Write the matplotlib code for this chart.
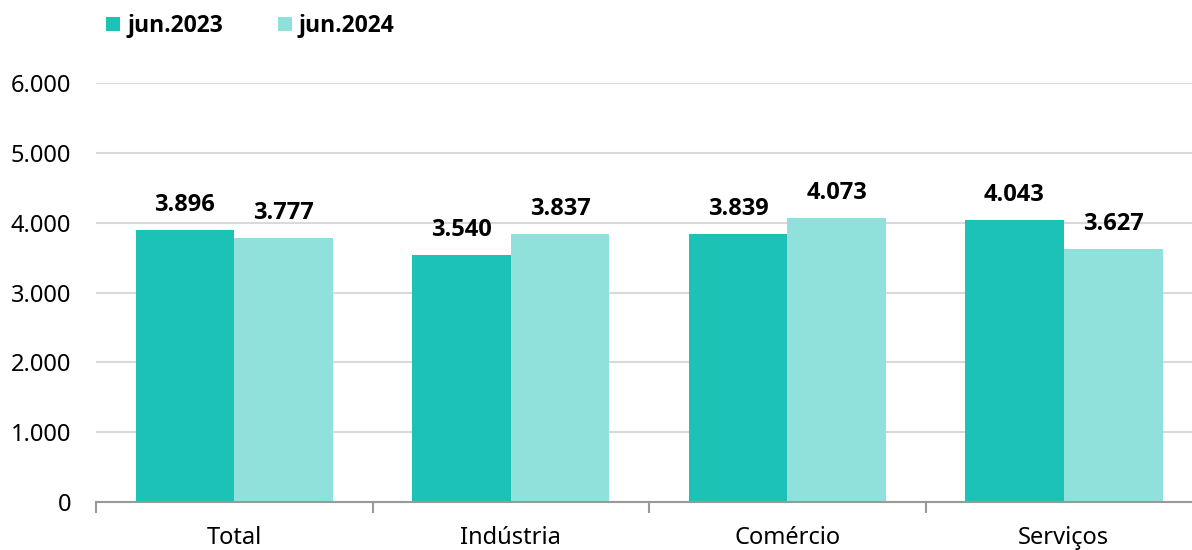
import matplotlib
matplotlib.use('Agg')
import matplotlib.pyplot as plt
import numpy as np

categories = ['Total', 'Indústria', 'Comércio', 'Serviços']
jun2023 = [3896, 3540, 3839, 4043]
jun2024 = [3777, 3837, 4073, 3627]
series_names = ['jun.2023', 'jun.2024']
yticks = [0, 1000, 2000, 3000, 4000, 5000, 6000]

plt.rcParams['font.family'] = ['Noto Sans', 'DejaVu Sans']
bold_font = ['Open Sans', 'DejaVu Sans']

def fmt(v):
    return '{:,}'.format(v).replace(',', '.')

fig = plt.figure(figsize=(11.92, 5.5), dpi=100)
ax = fig.add_axes([0.0805, 0.087, 0.928, 0.762])

x = np.arange(len(categories))
w = 0.357
dark = '#1CC2B5'
light = '#90E1DB'

b1 = ax.bar(x - w / 2, jun2023, w, color=dark, label=series_names[0], zorder=3)
b2 = ax.bar(x + w / 2, jun2024, w, color=light, label=series_names[1], zorder=3)

for bars, vals in [(b1, jun2023), (b2, jun2024)]:
    for b, v in zip(bars, vals):
        ax.annotate(fmt(v), (b.get_x() + b.get_width() / 2, v), xytext=(0, 18),
                    textcoords='offset points', ha='center', va='center',
                    fontsize=17, fontweight='bold', family=bold_font, color='black')

ax.set_ylim(0, 6000)
ax.set_xlim(-0.5, len(categories) - 0.5)
ax.set_yticks(yticks)
ax.set_yticklabels([fmt(v) for v in yticks], fontsize=17)
ax.tick_params(axis='y', length=0, pad=18)
ax.grid(axis='y', color='#D9D9D9', linewidth=1.5, zorder=0)

ax.set_xticks(np.arange(-0.5, len(categories)), minor=False)
ax.set_xticklabels([])
ax.set_xticks(x, minor=True)
ax.set_xticklabels(categories, minor=True, fontsize=17)
ax.tick_params(axis='x', which='major', length=8, color='#999999', width=1.5, direction='out')
ax.tick_params(axis='x', which='minor', length=0, pad=17)

for s in ['top', 'right', 'left']:
    ax.spines[s].set_visible(False)
ax.spines['bottom'].set_color('#999999')
ax.spines['bottom'].set_linewidth(1.5)
ax.spines['bottom'].set_zorder(4)

leg = fig.legend(loc='upper left', bbox_to_anchor=(0.072, 1.012), ncol=2, frameon=False,
                 handlelength=0.6, handleheight=0.6, handletextpad=0.3, columnspacing=2.4,
                 prop={'family': bold_font, 'weight': 'bold', 'size': 16.5})

fig.savefig('out.png', dpi=100)
